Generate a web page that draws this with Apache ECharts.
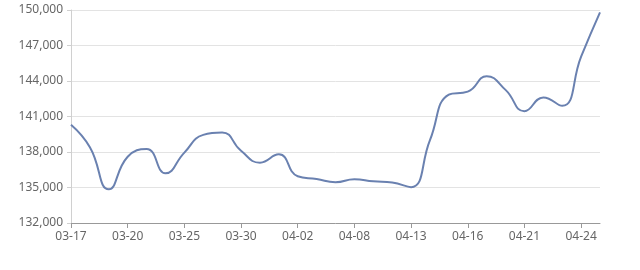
<!DOCTYPE html>
<html>
<head>
<meta charset="utf-8">
<script src="https://cdn.jsdelivr.net/npm/echarts@6/dist/echarts.min.js"></script>
<style>
html,body{margin:0;padding:0;background:#fff;}
#c{width:640px;height:270px;}
</style>
</head>
<body>
<div id="c"></div>
<script>
var categories = ['03-17','03-18','03-19','03-20','03-23','03-24','03-25','03-26','03-27','03-30','03-31','04-01','04-02','04-03','04-07','04-08','04-09','04-10','04-13','04-14','04-15','04-16','04-17','04-20','04-21','04-22','04-23','04-24','04-27'];
var prices = [140300,138400,134850,137600,138250,136200,137950,139450,139650,138100,137100,137800,135950,135720,135450,135700,135520,135420,135030,139000,142850,143100,144400,143250,141450,142600,141900,146050,149800];
var yTicks = {min:132000, max:150000, interval:3000};

var chart = echarts.init(document.getElementById('c'));
chart.setOption({
  animation:false,
  grid:{left:71, right:40, top:10, bottom:47},
  xAxis:{
    type:'category',
    data:categories,
    boundaryGap:false,
    axisLine:{lineStyle:{color:'#999'}},
    axisTick:{interval:2, length:5, lineStyle:{color:'#999'}},
    axisLabel:{interval:2, color:'#666', fontSize:12, margin:8, fontFamily:'Noto Sans'}
  },
  yAxis:{
    type:'value',
    min:yTicks.min, max:yTicks.max, interval:yTicks.interval,
    axisLine:{show:true, lineStyle:{color:'#d0d0d0'}},
    axisTick:{show:true, length:4, lineStyle:{color:'#d0d0d0'}},
    axisLabel:{color:'#666', fontSize:12, margin:8, fontFamily:'Noto Sans',
      formatter:function(v){return v.toLocaleString('en-US');}},
    splitLine:{lineStyle:{color:'#e3e3e3'}}
  },
  series:[{
    type:'line',
    data:prices,
    smooth:true,
    showSymbol:false,
    symbol:'none',
    lineStyle:{color:'#6a81b0', width:2}
  }]
});
</script>
</body>
</html>
